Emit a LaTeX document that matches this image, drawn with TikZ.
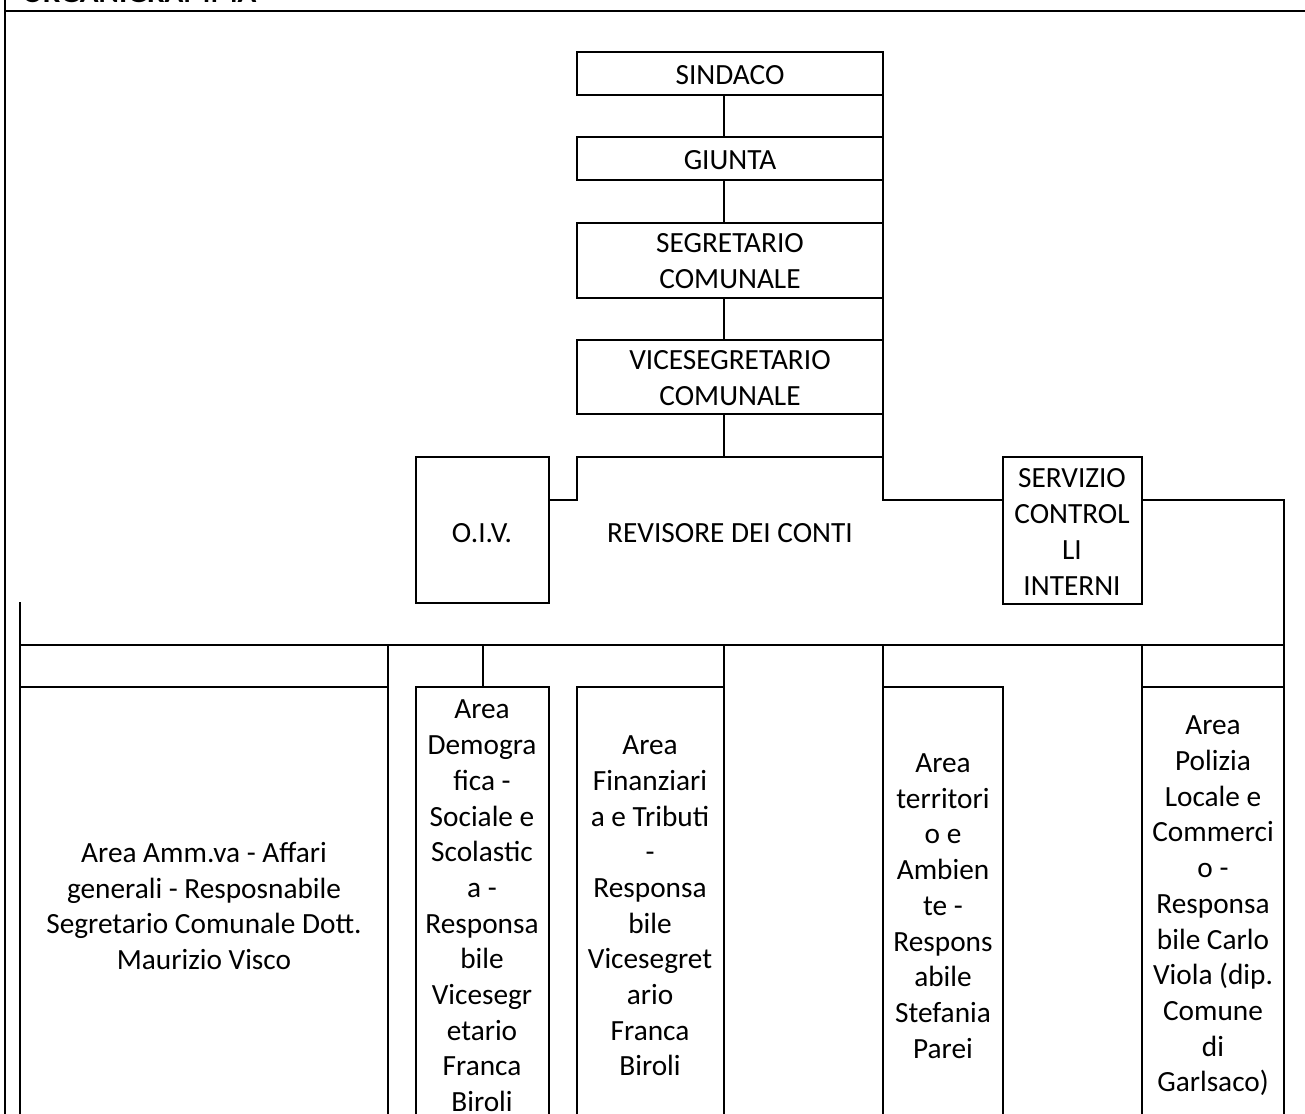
\documentclass[tikz,border=0pt]{standalone}
\usepackage{fontspec}
\setmainfont{Carlito}
\usetikzlibrary{fit}
\begin{document}
\begin{tikzpicture}[x=1pt,y=-1pt,line width=2pt,line join=miter,
  frame/.style={draw,inner sep=0pt,outer sep=0pt,line width=2pt},
  lbl/.style={inner sep=0pt,align=center,font=\fontsize{29.3}{35.7}\selectfont},
  link/.style={draw,line width=2pt,line cap=rect}]
\useasboundingbox (0,0) rectangle (1305,1113);
% page frame and title
\coordinate (ftl) at (5,-10);
\coordinate (fbl) at (5,1150);
\coordinate (hl) at (5,11);
\coordinate (hr) at (1315,11);
\draw[link] (ftl) -- (fbl);
\draw[link] (hl) -- (hr);
\node[anchor=base west,inner sep=0pt,font=\fontsize{31}{36}\selectfont\bfseries] (title) at (21,3) {ORGANIGRAMMA};
% top chain
\node[frame,fit={(577,52)(883,95)}] (sindaco) {};
\node[lbl] (tsindaco) at (730,75) {SINDACO};
\node[frame,fit={(577,137)(883,180)}] (giunta) {};
\node[lbl] (tgiunta) at (730,160) {GIUNTA};
\node[frame,fit={(577,223)(883,298)}] (segr) {};
\node[lbl] (tsegr) at (730,261) {SEGRETARIO\\COMUNALE};
\node[frame,fit={(577,340)(883,414)}] (vice) {};
\node[lbl] (tvice) at (730,378) {VICESEGRETARIO\\COMUNALE};
% middle row
\node[frame,fit={(416,457)(549,603)}] (oiv) {};
\node[lbl] (toiv) at (482,533) {O.I.V.};
\node[lbl] (trev) at (730,533) {REVISORE DEI CONTI};
\node[frame,fit={(1003,457)(1142,604)}] (servizio) {};
\node[lbl] (tserv) at (1072,532) {SERVIZIO\\CONTROL\\LI\\INTERNI};
% bottom boxes (open below the page edge)
\node[frame,fit={(20,687)(388,1150)}] (amm) {};
\node[lbl] (tamm) at (204,906) {Area Amm.va - Affari\\generali - Resposnabile\\Segretario Comunale Dott.\\Maurizio Visco};
\node[frame,fit={(416,687)(549,1150)}] (demo) {};
\node[lbl] (tdemo) at (482,906) {Area\\Demogra\\fica -\\Sociale e\\Scolastic\\a -\\Responsa\\bile\\Vicesegr\\etario\\Franca\\Biroli};
\node[frame,fit={(577,687)(724,1150)}] (fin) {};
\node[lbl] (tfin) at (650,906) {Area\\Finanziari\\a e Tributi\\-\\Responsa\\bile\\Vicesegret\\ario\\Franca\\Biroli};
\node[frame,fit={(883,687)(1003,1150)}] (terr) {};
\node[lbl] (tterr) at (943,906) {Area\\territori\\o e\\Ambien\\te -\\Respons\\abile\\Stefania\\Parei};
\node[frame,fit={(1142,687)(1284,1150)}] (pol) {};
\node[lbl] (tpol) at (1213,906) {Area\\Polizia\\Locale e\\Commerci\\o -\\Responsa\\bile Carlo\\Viola (dip.\\Comune\\di\\Garlsaco)};
% helper coordinates
\coordinate (cx) at (724,0);
\coordinate (ya) at (0,457);
\coordinate (yb) at (0,500);
\coordinate (yc) at (0,645);
\coordinate (bot) at (0,1150);
\coordinate (revtl) at (577,457);
\coordinate (rx) at (1284,0);
\coordinate (lx) at (20,0);
% connectors of the top chain
\draw[link] (sindaco.south -| cx) -- (giunta.north -| cx);
\draw[link] (giunta.south -| cx) -- (segr.north -| cx);
\draw[link] (segr.south -| cx) -- (vice.north -| cx);
\draw[link] (vice.south -| cx) -- (cx |- ya);
\draw[link] (sindaco.north east) -- (sindaco.north east |- yb) -- (servizio.west |- yb);
\draw[link] (oiv.east |- yb) -- (revtl |- yb) -- (revtl) -- (sindaco.east |- ya);
\draw[link] (servizio.east |- yb) -- (rx |- yb) -- (pol.north east);
% bus to the areas
\draw[link] (lx |- oiv.south) -- (lx |- bot);
\draw[link] (lx |- yc) -- (rx |- yc);
\draw[link] (amm.north east |- yc) -- (amm.north east);
\draw[link] (demo.north |- yc) -- (demo.north);
\draw[link] (fin.north east |- yc) -- (fin.north east);
\draw[link] (terr.north west |- yc) -- (terr.north west);
\draw[link] (pol.north west |- yc) -- (pol.north west);
\end{tikzpicture}
\end{document}
